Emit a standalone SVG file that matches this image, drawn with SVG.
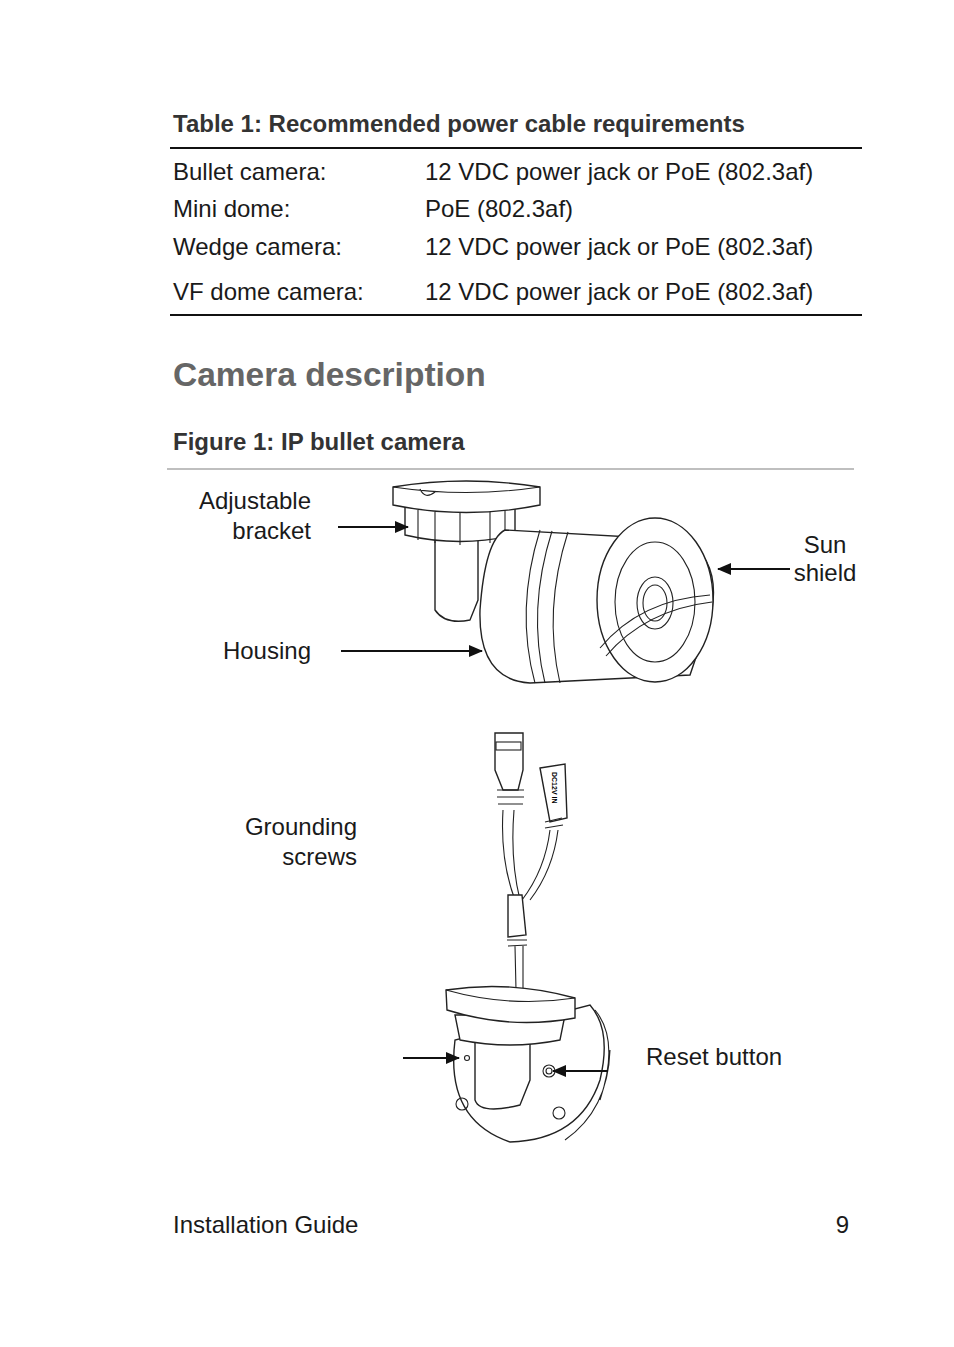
<svg xmlns="http://www.w3.org/2000/svg" width="954" height="1347" viewBox="0 0 954 1347">
<style>
.t{font-family:"Liberation Sans",Arial,sans-serif;font-size:24px;fill:#1a1a1a}
.b{font-family:"Liberation Sans",Arial,sans-serif;font-size:24px;font-weight:bold;fill:#333}
.d{fill:#fff;stroke:#222;stroke-width:1.4}
.l{fill:none;stroke:#222;stroke-width:1.1}
.a{stroke:#111;stroke-width:2;fill:none;marker-end:url(#ah)}
</style>
<defs><marker id="ah" markerWidth="14" markerHeight="12" refX="13" refY="6" orient="auto" markerUnits="userSpaceOnUse"><path d="M0,0 L14,6 L0,12 Z" fill="#111"/></marker></defs>
<rect width="954" height="1347" fill="#fff"/>
<text class="b" x="173" y="132">Table 1: Recommended power cable requirements</text>
<line x1="170" y1="148" x2="862" y2="148" stroke="#111" stroke-width="2"/>
<g class="t">
<text x="173" y="180">Bullet camera:</text><text x="425" y="180">12 VDC power jack or PoE (802.3af)</text>
<text x="173" y="217">Mini dome:</text><text x="425" y="217">PoE (802.3af)</text>
<text x="173" y="255">Wedge camera:</text><text x="425" y="255">12 VDC power jack or PoE (802.3af)</text>
<text x="173" y="300">VF dome camera:</text><text x="425" y="300">12 VDC power jack or PoE (802.3af)</text>
</g>
<line x1="170" y1="315" x2="862" y2="315" stroke="#111" stroke-width="2"/>
<text x="173" y="386" style="font-family:'Liberation Sans',Arial,sans-serif;font-size:33.5px;font-weight:bold;fill:#666">Camera description</text>
<text class="b" x="173" y="450">Figure 1: IP bullet camera</text>
<line x1="167" y1="469" x2="854" y2="469" stroke="#aaa" stroke-width="1.5"/>

<g id="camera-top">
<path class="d" d="M435,540 L435,610 Q445,625 470,620 L478,600 L478,540 Z"/>
<path class="d" d="M405,505 L405,535 Q460,548 515,535 L515,505 Z"/>
<path class="l" d="M418,510 L418,540 M435,512 L435,543 M460,512 L460,545 M490,512 L490,543 M505,510 L505,538"/>
<path class="d" d="M393,487 L393,505 Q466,520 540,505 L540,487 Q466,475 393,487 Z"/>
<path class="l" d="M393,487 Q466,498 540,487 M420,489 Q425,500 435,492"/>
<path class="d" d="M505,530 L685,540 Q720,560 712,610 L690,675 L530,683 Q478,680 480,610 Q485,540 505,530 Z"/>
<path class="l" d="M540,530 Q515,610 535,683 M552,531 Q527,610 545,683 M568,532 Q543,610 560,683"/>
<ellipse class="d" cx="655" cy="600" rx="58" ry="82"/>
<ellipse class="l" cx="655" cy="602" rx="40" ry="60"/>
<ellipse class="l" cx="655" cy="603" rx="18" ry="26"/>
<ellipse class="l" cx="655" cy="603" rx="12" ry="18"/>
<path class="l" d="M600,648 Q640,600 710,595 M606,656 Q645,610 712,602"/>
</g>

<g id="camera-bottom">
<path class="d" d="M495,733 L495,770 L503,790 L518,790 L523,770 L523,733 Z"/>
<rect class="l" x="496" y="742" width="25" height="8"/>
<path class="l" d="M497,790 L524,790 M497,797 L524,797 M498,804 L523,804"/>
<path class="l" d="M503,810 Q500,860 515,900 M514,810 Q510,860 520,900 M550,830 Q545,870 522,900 M558,830 Q553,870 530,900"/>
<path class="d" d="M540,768 L565,764 L567,818 L550,822 Z"/>
<path class="l" d="M545,822 L562,818 M545,828 L563,825"/>
<text x="552" y="772" transform="rotate(90 552 772)" style="font-family:'Liberation Sans',Arial,sans-serif;font-size:7px;font-weight:bold">DC12V IN</text>
<path class="d" d="M508,895 L522,895 L526,935 L508,937 Z"/>
<path class="l" d="M507,940 L527,940 M508,946 L527,945 M515,946 L516,990 M523,946 L523,990"/>
<path class="d" d="M455,1040 Q445,1120 510,1142 Q580,1140 600,1080 Q612,1030 590,1005 L455,1040 Z"/>
<path class="l" d="M595,1010 Q620,1040 600,1100 M565,1140 Q608,1110 610,1050"/>
<path class="d" d="M475,1040 L475,1100 Q480,1115 520,1105 L530,1080 L530,1040 Z"/>
<path class="d" d="M455,1015 L460,1040 Q510,1050 560,1040 L565,1015 Z"/>
<path class="d" d="M446,990 L447,1010 Q510,1030 575,1018 L575,998 Q510,980 446,990 Z"/>
<path class="l" d="M446,990 Q510,1008 575,998"/>
<circle class="l" cx="467" cy="1058" r="2.5"/>
<circle class="l" cx="549" cy="1071" r="6"/><circle class="l" cx="549" cy="1071" r="3"/>
<circle class="l" cx="462" cy="1104" r="6"/><circle class="l" cx="559" cy="1113" r="6"/>
</g>

<g id="labels" class="t">
<text x="311" y="509" text-anchor="end">Adjustable</text>
<text x="311" y="539" text-anchor="end">bracket</text>
<text x="825" y="553" text-anchor="middle">Sun</text>
<text x="825" y="581" text-anchor="middle">shield</text>
<text x="311" y="659" text-anchor="end">Housing</text>
<text x="357" y="835" text-anchor="end">Grounding</text>
<text x="357" y="865" text-anchor="end">screws</text>
<text x="646" y="1065">Reset button</text>
</g>
<g id="connectors">
<line class="a" x1="338" y1="527" x2="408" y2="527"/>
<line class="a" x1="790" y1="569" x2="718" y2="569"/>
<line class="a" x1="341" y1="651" x2="482" y2="651"/>
<line class="a" x1="403" y1="1058" x2="459" y2="1058"/>
<line class="a" x1="608" y1="1071" x2="553" y2="1071"/>
</g>
<text class="t" x="173" y="1233">Installation Guide</text>
<text class="t" x="849" y="1233" text-anchor="end">9</text>
</svg>
